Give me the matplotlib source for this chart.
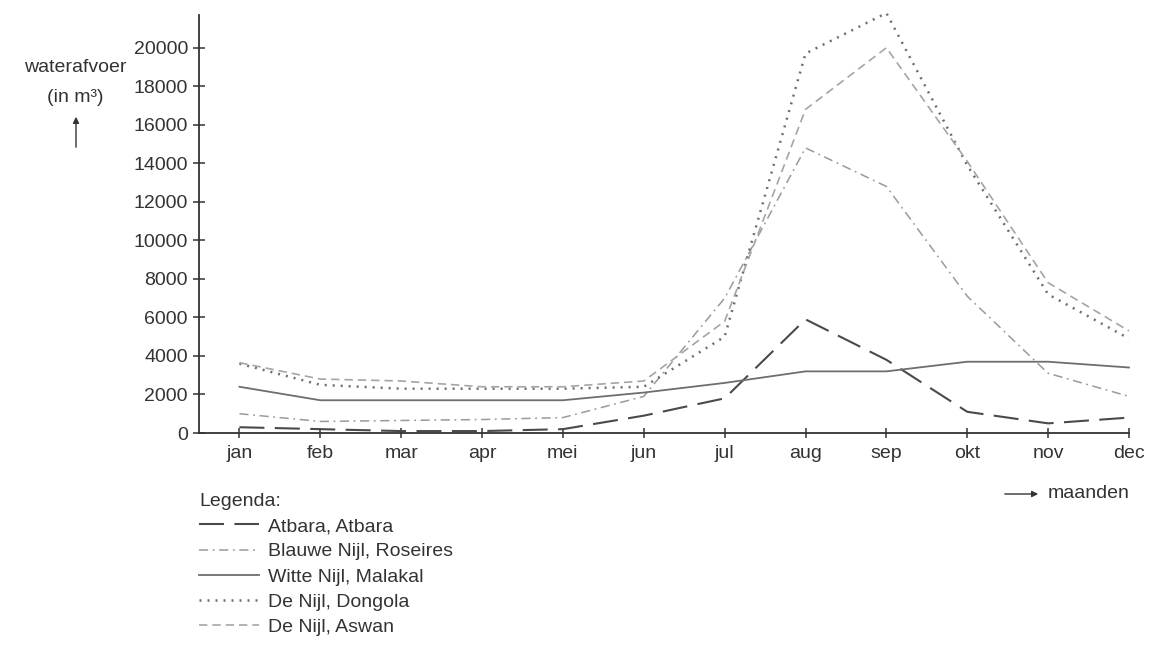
import matplotlib
matplotlib.use("Agg")
import matplotlib.pyplot as plt

plt.rcParams['font.family'] = ['Liberation Sans', 'DejaVu Sans']

# maanden en waterafvoer per meetpunt
maanden = ['jan', 'feb', 'mar', 'apr', 'mei', 'jun', 'jul', 'aug', 'sep', 'okt', 'nov', 'dec']
atbara = [300, 200, 100, 100, 200, 900, 1800, 5900, 3800, 1100, 500, 800]
blauwe_nijl = [1000, 600, 650, 700, 800, 1900, 7000, 14800, 12800, 7100, 3100, 1900]
witte_nijl = [2400, 1700, 1700, 1700, 1700, 2100, 2600, 3200, 3200, 3700, 3700, 3400]
dongola = [3600, 2500, 2300, 2300, 2300, 2400, 5000, 19700, 21800, 13900, 7200, 4900]
aswan = [3650, 2800, 2700, 2400, 2400, 2700, 5800, 16800, 20000, 14100, 7800, 5300]
y_ticks = list(range(0, 20001, 2000))

FS = 14

series = [
    ('Atbara, Atbara', atbara, '#4a4a4a', 1.5, (0, (12, 5))),
    ('Blauwe Nijl, Roseires', blauwe_nijl, '#9a9a9a', 1.1, (0, (6, 3, 1.2, 3))),
    ('Witte Nijl, Malakal', witte_nijl, '#6e6e6e', 1.3, '-'),
    ('De Nijl, Dongola', dongola, '#6e6e6e', 1.8, (0, (0.8, 2.4))),
    ('De Nijl, Aswan', aswan, '#a5a5a5', 1.2, (0, (5, 3))),
]

fig = plt.figure(figsize=(11.55, 6.57), dpi=100)
ax = fig.add_axes([199 / 1155, 1 - 433 / 657, 930 / 1155, 418 / 657])

x = list(range(len(maanden)))
for label, vals, color, lw, ls in series:
    ax.plot(x, vals, color=color, lw=lw, linestyle=ls, label=label, clip_on=False)

ax.set_xlim(-0.5, 11)
ax.set_ylim(0, 21700)
ax.set_xticks(x)
ax.set_xticklabels(maanden)
ax.set_yticks(y_ticks)
ax.set_yticklabels([str(v) for v in y_ticks])

for side in ['top', 'right']:
    ax.spines[side].set_visible(False)
for side in ['left', 'bottom']:
    ax.spines[side].set_color('#333333')
    ax.spines[side].set_linewidth(1.3)
ax.tick_params(axis='y', direction='inout', length=8, width=1.1, pad=4,
               colors='#333333', labelsize=FS)
ax.tick_params(axis='x', direction='inout', length=7, width=1.1, pad=5,
               colors='#333333', labelsize=FS)

# aslabels
fig.text(75 / 1155, 1 - 68 / 657, 'waterafvoer', ha='center', va='center',
         fontsize=FS, color='#333333')
fig.text(75 / 1155, 1 - 97 / 657, '(in m\u00b3)', ha='center', va='center',
         fontsize=FS, color='#333333')
fig.add_artist(matplotlib.patches.FancyArrowPatch(
    (76 / 1155, 1 - 150 / 657), (76 / 1155, 1 - 114 / 657),
    transform=fig.transFigure, arrowstyle='-|>', mutation_scale=9,
    color='#333333', lw=1))
fig.add_artist(matplotlib.patches.FancyArrowPatch(
    (1002 / 1155, 1 - 494 / 657), (1041 / 1155, 1 - 494 / 657),
    transform=fig.transFigure, arrowstyle='-|>', mutation_scale=9,
    color='#333333', lw=1))
fig.text(1048 / 1155, 1 - 493 / 657, 'maanden', ha='left', va='center',
         fontsize=FS, color='#333333')

leg = ax.legend(loc='upper left', bbox_to_anchor=(199 / 1155, 1 - 493 / 657),
                bbox_transform=fig.transFigure, frameon=False, title='Legenda:',
                alignment='left', fontsize=FS, title_fontsize=FS,
                handlelength=3.1, handletextpad=0.45, labelspacing=0.39,
                borderaxespad=0, borderpad=0)
for t in leg.get_texts():
    t.set_color('#333333')
leg.get_title().set_color('#333333')

fig.savefig('out.png', dpi=100)
